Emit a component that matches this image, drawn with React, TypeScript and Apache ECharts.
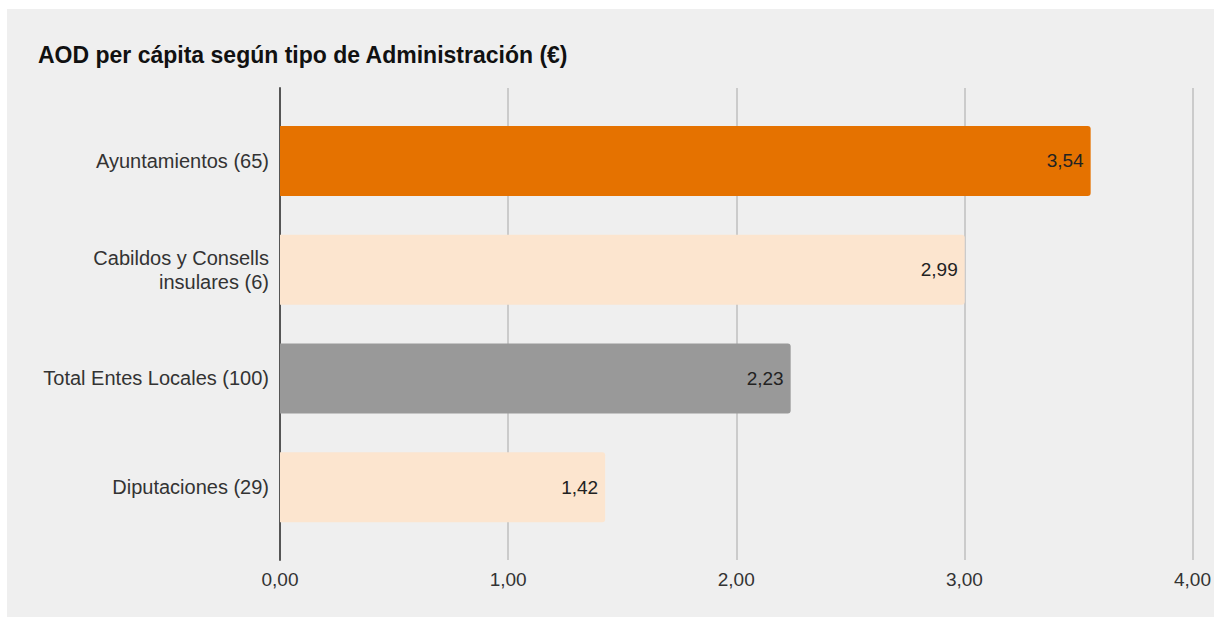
import React, { useEffect, useRef } from "react";
import * as echarts from "echarts";

const titleText = "AOD per cápita según tipo de Administración (€)";
const categories = [
  "Ayuntamientos (65)",
  "Cabildos y Consells\ninsulares (6)",
  "Total Entes Locales (100)",
  "Diputaciones (29)",
];
const values = [3.54, 2.99, 2.23, 1.42];
const barColors = ["#e57200", "#fce5cf", "#999999", "#fce5cf"];
const axisMin = 0;
const axisMax = 4;
const axisInterval = 1;

const fmt = (v: number) => v.toFixed(2).replace(".", ",");
const FONT = "'Liberation Sans', Arial, sans-serif";

export default function App() {
  const ref = useRef<HTMLDivElement>(null);
  useEffect(() => {
    if (!ref.current) return;
    const chart = echarts.init(ref.current, undefined, { renderer: "svg" });
    chart.setOption({
      animation: false,
      backgroundColor: "#efefef",
      textStyle: { fontFamily: FONT },
      title: {
        text: titleText,
        left: 31,
        top: 34,
        padding: 0,
        textStyle: { fontFamily: FONT, fontSize: 23, fontWeight: "bold", color: "#111" },
      },
      grid: [
        { left: 273, right: 18, top: 79, bottom: 57 },
        { left: 273, right: 18, top: 97.5, bottom: 75.5 },
      ],
      xAxis: [
        {
          gridIndex: 0,
          type: "value",
          min: axisMin,
          max: axisMax,
          interval: axisInterval,
          axisLine: { show: false },
          axisTick: { show: false },
          splitLine: { show: true, lineStyle: { color: "#cbcbcb", width: 2 } },
          axisLabel: {
            formatter: (v: number) => fmt(v),
            fontFamily: FONT,
            fontSize: 19,
            color: "#333",
            margin: 10,
          },
        },
        { gridIndex: 1, type: "value", min: axisMin, max: axisMax, show: false },
      ],
      yAxis: [
        {
          gridIndex: 0,
          type: "value",
          axisLine: { show: true, lineStyle: { color: "#555", width: 2 } },
          axisTick: { show: false },
          axisLabel: { show: false },
          splitLine: { show: false },
        },
        {
          gridIndex: 1,
          type: "category",
          data: categories,
          inverse: true,
          axisLine: { show: false },
          axisTick: { show: false },
          axisLabel: {
            fontFamily: FONT,
            fontSize: 20,
            color: "#333",
            margin: 11,
            lineHeight: 24,
            align: "right",
          },
        },
      ],
      series: [
        {
          type: "bar",
          xAxisIndex: 1,
          yAxisIndex: 1,
          barWidth: 70,
          data: values.map((v, i) => ({ value: v, itemStyle: { color: barColors[i] } })),
          itemStyle: { borderRadius: [0, 3, 3, 0] },
          label: {
            show: true,
            position: "insideRight",
            distance: 7,
            formatter: (p: any) => fmt(p.value),
            fontFamily: FONT,
            fontSize: 19,
            color: "#222",
          },
        },
      ],
    });
    return () => chart.dispose();
  }, []);

  return (
    <div style={{ position: "fixed", left: 0, top: 0, width: 1214, height: 617, background: "#fff" }}>
      <div
        ref={ref}
        style={{ position: "absolute", left: 7, top: 9, width: 1207, height: 608 }}
      />
    </div>
  );
}
